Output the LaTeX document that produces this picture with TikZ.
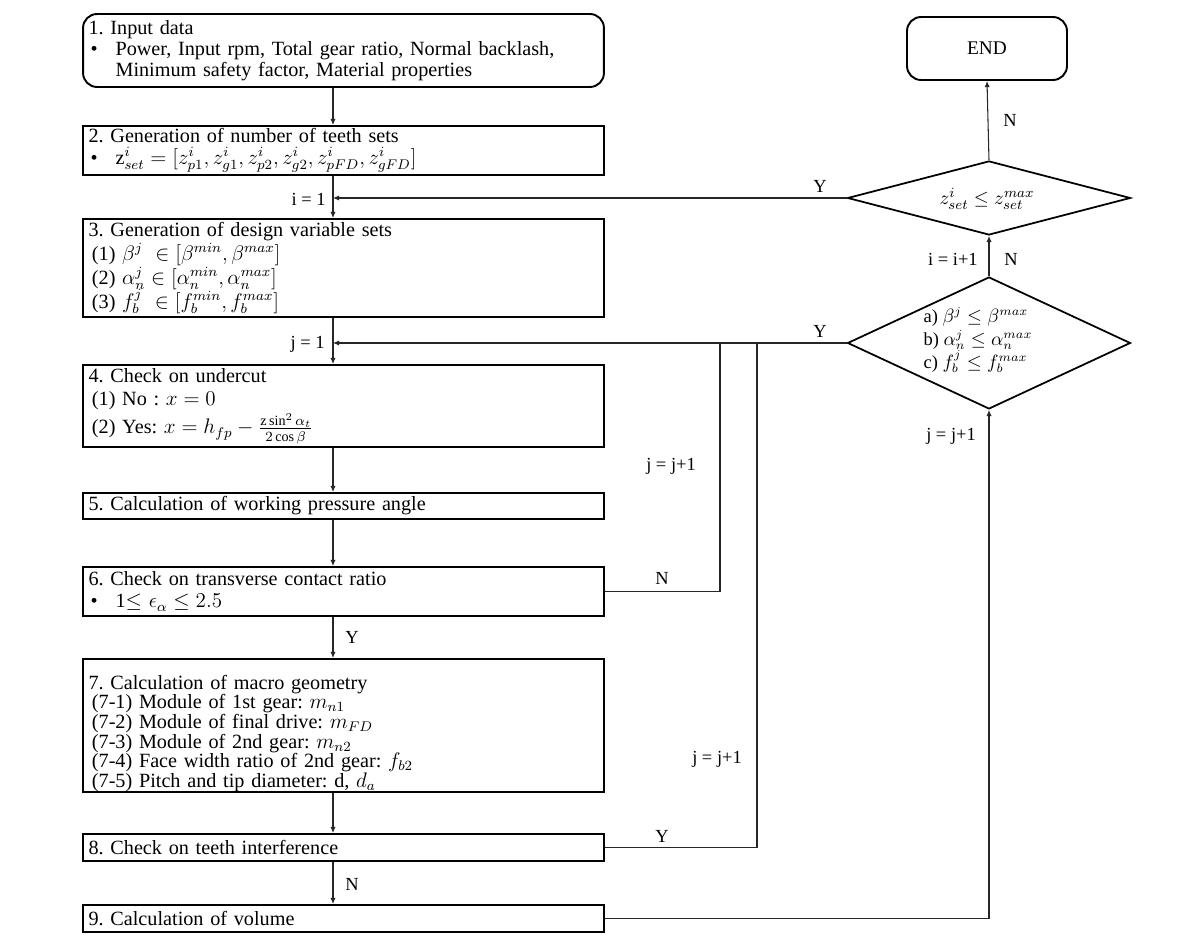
\documentclass[tikz,border=0pt]{standalone}
\usepackage{fontspec}
\setmainfont{Liberation Serif}
\usetikzlibrary{shapes.geometric,arrows.meta}
\newcommand{\bul}{\makebox[0.54cm][l]{\hspace{0.04cm}\textbullet}}
\newcommand{\fixls}{\lineskiplimit-20pt\relax}
\frenchspacing
\begin{document}
\begin{tikzpicture}[x=0.02cm,y=-0.02cm,
  box/.style={draw, line width=1.1pt, rectangle, text width=10.2cm, inner xsep=0.11cm, inner ysep=0pt, align=left, font=\fontsize{11.5}{12}\selectfont\fixls},
  rbox/.style={box, rounded corners=8pt},
  endbox/.style={draw, line width=1.1pt, rectangle, rounded corners=8pt, minimum width=3.2cm, minimum height=1.26cm, font=\fontsize{11}{12}\selectfont},
  dia/.style={draw, line width=1pt, diamond, inner sep=0pt, minimum width=5.66cm},
  conn/.style={line width=0.6pt, draw=black!85},
  arr/.style={conn, -{Latex[length=3.5pt,width=3pt]}},
  lbl/.style={inner sep=0pt, font=\fontsize{10.5}{12}\selectfont}
]
\useasboundingbox (0,0) rectangle (1198,952);
\coordinate (sp) at (333,0);

\node[rbox, minimum height=1.46cm] (b1) at (343.5,50.5) {1. Input data\\ \bul Power, Input rpm, Total gear ratio, Normal backlash,\\ \hspace*{0.54cm}Minimum safety factor, Material properties};
\node[box, minimum height=0.98cm, font=\fontsize{11.5}{12.5}\selectfont\fixls] (b2) at (343.5,150.5) {2. Generation of number of teeth sets\\ \bul $\mathrm{z}^{i}_{set} = [z^i_{p1}, z^i_{g1}, z^i_{p2}, z^i_{g2}, z^i_{pFD}, z^i_{gFD}]$};
\node[box, minimum height=1.96cm, font=\fontsize{11.5}{13.5}\selectfont\fixls] (b3) at (343.5,268) {3. Generation of design variable sets\\ \,(1) $\beta^j\ \in [\beta^{min}, \beta^{max}]$\\ \,(2) $\alpha^j_n \in [\alpha^{min}_n, \alpha^{max}_n]$\\ \,(3) $f^j_b\ \in [f^{min}_b, f^{max}_b]$};
\node[box, minimum height=1.64cm, font=\fontsize{11.5}{13.5}\selectfont\fixls] (b4) at (343.5,406) {4. Check on undercut\\ \,(1) No : $x = 0$\\[2.5pt] \,(2) Yes: $x = h_{fp} - \frac{\mathrm{z}\sin^2\alpha_t}{2\cos\beta}$};
\node[box, minimum height=0.52cm] (b5) at (343.5,506) {5. Calculation of working pressure angle};
\node[box, minimum height=0.98cm, font=\fontsize{11.5}{12.5}\selectfont\fixls] (b6) at (343.5,591.5) {6. Check on transverse contact ratio\\ \bul 1$\le$ $\epsilon_\alpha \le 2.5$};
\node[box, minimum height=2.66cm, font=\fontsize{11.5}{11.2}\selectfont\fixls] (b7) at (343.5,725.5) {\rule{0pt}{17pt}7. Calculation of macro geometry\\ \,(7-1) Module of 1st gear: $m_{n1}$\\ \,(7-2) Module of final drive: $m_{FD}$\\ \,(7-3) Module of 2nd gear: $m_{n2}$\\ \,(7-4) Face width ratio of 2nd gear: $f_{b2}$\\ \,(7-5) Pitch and tip diameter: d, $d_a$};
\node[box, minimum height=0.54cm] (b8) at (343.5,847.5) {8. Check on teeth interference};
\node[box, minimum height=0.54cm] (b9) at (343.5,918.5) {9. Calculation of volume};

\node[endbox] (end) at (987,48.5) {END};
\node[dia, minimum height=1.48cm] (d1) at (989,198) {};
\node[inner sep=0pt, font=\fontsize{11}{12}\selectfont] (d1t) at (987,199) {$z^{i}_{set} \le z^{max}_{set}$};
\node[dia, minimum height=2.64cm] (d2) at (989,343) {};
\node[inner sep=0pt, align=left, font=\fontsize{10.5}{13}\selectfont\fixls] (d2t) at (978,340) {a) $\beta^j \le \beta^{max}$\\ b) $\alpha^j_n \le \alpha^{max}_n$\\ c) $f^j_b \le f^{max}_b$};

\coordinate (i1) at (sp |- d1.west);
\coordinate (j1) at (sp |- d2.west);
\coordinate (c6) at (720,343);
\coordinate (c8) at (757,343);

\draw[arr] (b1.south -| sp) -- (b2.north -| sp);
\draw[arr] (b2.south -| sp) -- (b3.north -| sp);
\draw[arr] (b3.south -| sp) -- (b4.north -| sp);
\draw[arr] (b4.south -| sp) -- (b5.north -| sp);
\draw[arr] (b5.south -| sp) -- (b6.north -| sp);
\draw[arr] (b6.south -| sp) -- (b7.north -| sp);
\draw[arr] (b7.south -| sp) -- (b8.north -| sp);
\draw[arr] (b8.south -| sp) -- (b9.north -| sp);
\draw[arr] (d1.west) -- (i1);
\draw[arr] (d2.west) -- (j1);
\draw[conn] (b6.east) -| (c6);
\draw[conn] (b8.east) -| (c8);
\draw[arr] (b9.east) -| (d2.south);
\draw[arr] (d2.north) -- (d1.south);
\draw[arr] (d1.north) -- (end.south);

\node[lbl, anchor=east] (li1) at (326,199) {i = 1};
\node[lbl, anchor=east] (lj1) at (325,344) {j = 1};
\node[lbl] (ly1) at (820,186) {Y};
\node[lbl] (ly2) at (820,331) {Y};
\node[lbl] (ln1) at (1010,120) {N};
\node[lbl, anchor=east] (lii) at (978,259) {i = i+1};
\node[lbl] (ln2) at (1011,259) {N};
\node[lbl] (lj2) at (951,436) {j = j+1};
\node[lbl] (lj3) at (671,466) {j = j+1};
\node[lbl] (ln3) at (662,578) {N};
\node[lbl] (lj4) at (717,759) {j = j+1};
\node[lbl] (ly3) at (662,836) {Y};
\node[lbl] (ly4) at (352,637) {Y};
\node[lbl] (ln4) at (352,884) {N};
\end{tikzpicture}
\end{document}
